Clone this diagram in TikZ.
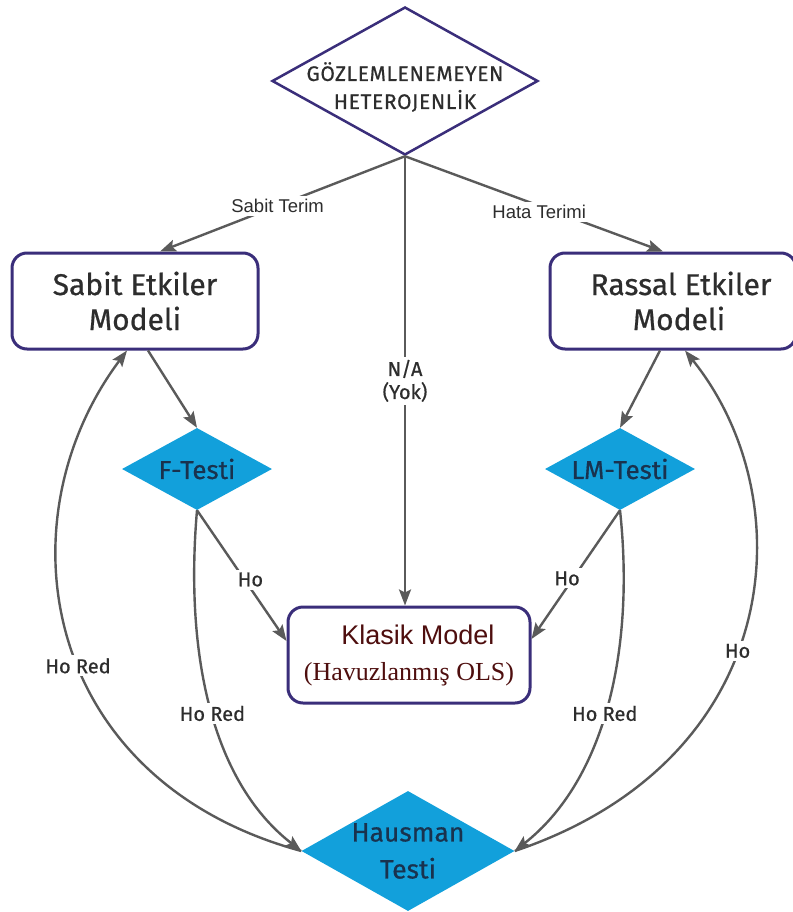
\documentclass[tikz,border=0pt]{standalone}
\usepackage{fontspec}
\setmainfont{Fira Sans}
\newfontfamily\dinfont[FakeBold=0.6]{Fira Sans}
\newfontfamily\dinwide[LetterSpace=3,FakeBold=0.6]{Fira Sans}
\newfontfamily\termfont{Liberation Sans}
\newfontfamily\serifrm{Liberation Serif}
\usetikzlibrary{shapes.geometric,arrows.meta,calc}

\definecolor{navy}{RGB}{58,46,122}
\definecolor{testblue}{RGB}{18,160,219}
\definecolor{linegray}{RGB}{90,90,90}
\definecolor{textdark}{RGB}{45,45,45}
\definecolor{testtext}{RGB}{25,50,78}
\definecolor{olsred}{RGB}{78,14,14}

\begin{document}
\begin{tikzpicture}[x=1pt,y=-1pt,
  modelbox/.style={draw=navy, line width=3pt, rounded corners=15pt, fill=white,
    minimum width=246pt, minimum height=96pt, align=center, text=textdark,
    font={\dinfont\fontsize{30}{35}\selectfont}},
  testdia/.style={diamond, fill=testblue, inner sep=0pt},
  conn/.style={line width=2.4pt, draw=linegray,
    -{Stealth[length=16pt,width=12pt,inset=3pt]}},
  tag/.style={fill=white, inner sep=3pt, text=textdark, align=center,
    font={\dinfont\fontsize{20}{23}\selectfont}},
  termtag/.style={fill=white, inner sep=3pt, text=textdark,
    font={\termfont\fontsize{18.5}{20}\selectfont}}
]
\useasboundingbox (0,0) rectangle (792,912);

% root question
\node[diamond, draw=navy, line width=2.5pt, fill=white, inner sep=0pt,
      minimum width=266pt, minimum height=148pt,
      label={[align=center, text=textdark, yshift=-6pt,
              font={\dinwide\fontsize{21}{28}\selectfont}]center:GÖZLEMLENEMEYEN\\HETEROJENLİK}]
      (root) at (405,81) {};

% models
\node[modelbox] (sabit) at (135,301) {Sabit Etkiler\\Modeli};
\node[modelbox] (rassal) at (673,301) {\hspace*{16pt}Rassal Etkiler\\\hspace*{12pt}Modeli};
\node[modelbox, minimum width=242pt, text=olsred,
      font={\termfont\fontsize{27}{36}\selectfont}] (klasik) at (409,655)
      {\hspace*{18pt}Klasik Model\\{\serifrm\fontsize{26}{30}\selectfont (Havuzlanmış OLS)}};

% tests
\node[testdia, minimum width=150pt, minimum height=82pt,
      label={[text=testtext, font={\dinfont\fontsize{26}{28}\selectfont}]center:F-Testi}]
      (ftest) at (197,469) {};
\node[testdia, minimum width=150pt, minimum height=82pt,
      label={[text=testtext, font={\dinfont\fontsize{26}{28}\selectfont}]center:LM-Testi}]
      (lmtest) at (620,469) {};
\node[testdia, minimum width=213pt, minimum height=120pt,
      label={[align=center, text=testtext,
              font={\dinfont\fontsize{26.5}{37}\selectfont}]center:Hausman\\Testi}]
      (hausman) at (408,851) {};

% from the root
\draw[conn] (root.south) -- node[termtag, pos=0.52] {Sabit Terim} ([xshift=25pt]sabit.north);
\draw[conn] (root.south) -- node[termtag, pos=0.52, yshift=-6pt] {Hata Terimi} ([xshift=-10pt]rassal.north);
\draw[conn] (root.south) -- node[tag, pos=0.5] {N/A\\(Yok)} ([xshift=-4pt]klasik.north);

% models to tests
\draw[conn] ([xshift=13pt]sabit.south) -- (ftest.north);
\draw[conn] ([xshift=-13pt]rassal.south) -- (lmtest.north);

% null hypothesis accepted
\draw[conn] (ftest.south) -- node[tag, pos=0.53, xshift=6pt] {Ho} ([yshift=14pt]klasik.west);
\draw[conn] (lmtest.south) -- node[tag, pos=0.53, xshift=-6pt] {Ho} ([yshift=16pt]klasik.east);

% null hypothesis rejected
\draw[conn] (ftest.south) .. controls (185,650) and (210,780) ..
      node[tag, pos=0.52] {Ho Red} (hausman.west);
\draw[conn] (lmtest.south) .. controls (635,650) and (605,780) ..
      node[tag, pos=0.52] {Ho Red} (hausman.east);

% Hausman outcomes
\draw[conn] (hausman.west) .. controls (40,780) and (0,520) ..
      node[tag, pos=0.45] {Ho Red} ([xshift=-8pt]sabit.south);
\draw[conn] (hausman.east) .. controls (785,760) and (805,500) ..
      node[tag, pos=0.45] {Ho} ([xshift=12pt]rassal.south);
\end{tikzpicture}
\end{document}
